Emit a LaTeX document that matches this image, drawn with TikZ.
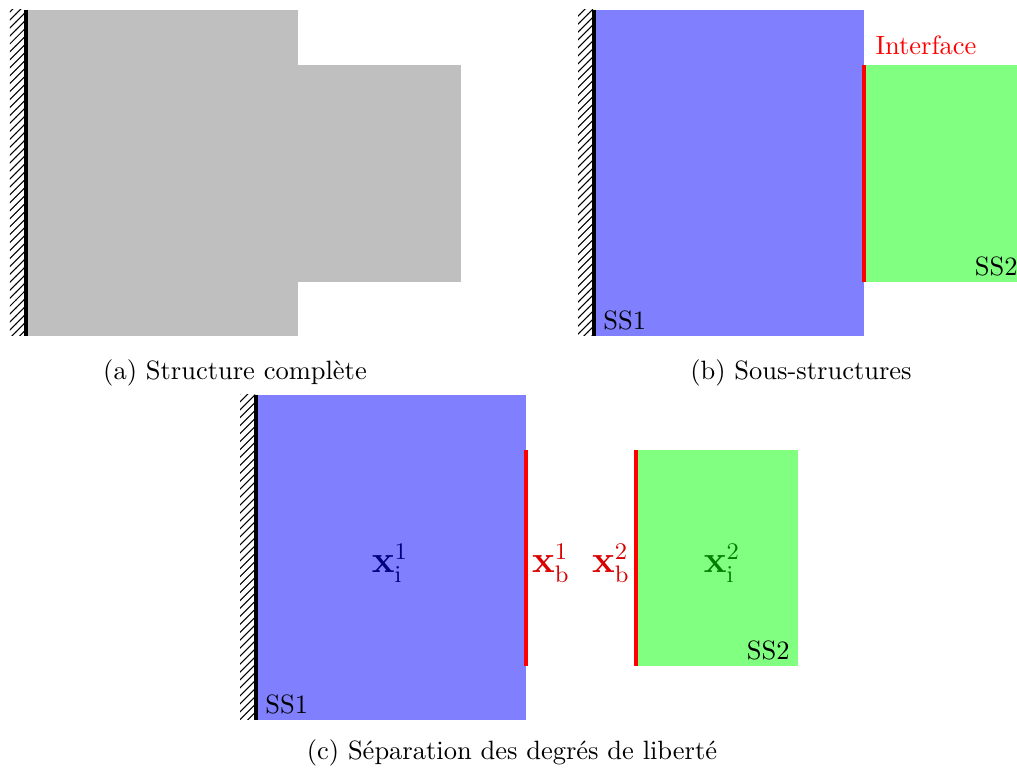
\documentclass[tikz,border=0pt]{standalone}
\usetikzlibrary{patterns}
\begin{document}
\begin{tikzpicture}[x=0.3775pt,y=-0.3775pt,
  wall/.style={pattern=north east lines},
  wallline/.style={line width=1.2pt,black},
  iface/.style={line width=1.5pt,red},
  ssone/.style={fill=blue!50},
  sstwo/.style={fill=green!50},
  full/.style={fill=black!25},
  lbl/.style={font=\fontsize{13.4}{16}\selectfont},
  captxt/.style={font=\normalsize}]
\useasboundingbox (0,0) rectangle (1017,769);
% (a)
\fill[full] (26,10) rectangle (298,336);
\fill[full] (297,65) rectangle (461,282);
\fill[wall] (10,10) rectangle (25,336);
\draw[wallline] (26,10) -- (26,336);
\node[captxt] (capa) at (235,373) {(a) Structure compl\`ete};
% (b)
\fill[ssone] (594,10) rectangle (864,336);
\fill[sstwo] (864,65) rectangle (1017,282);
\fill[wall] (578,10) rectangle (593,336);
\draw[wallline] (594,10) -- (594,336);
\draw[iface] (864,65) -- (864,282);
\node[red] (intf) at (926,45) {Interface};
\node[anchor=south west] (ss1b) at (594,339) {SS1};
\node[anchor=south east] (ss2b) at (1027,285) {SS2};
\node[captxt] (capb) at (801,373) {(b) Sous-structures};
% (c)
\fill[ssone] (256,395) rectangle (526,720);
\fill[sstwo] (636,450) rectangle (798,666);
\fill[wall] (240,395) rectangle (255,720);
\draw[wallline] (256,395) -- (256,720);
\draw[iface] (526,450) -- (526,666);
\draw[iface] (636,450) -- (636,666);
\node[lbl,text=blue!50!black] (xi1) at (390,563) {$\mathbf{x}_{\mathrm{i}}^{1}$};
\node[lbl,text=red!85!black,anchor=west,inner sep=1pt] (xb1) at (529,563) {$\mathbf{x}_{\mathrm{b}}^{1}$};
\node[lbl,text=red!85!black,anchor=east,inner sep=1pt] (xb2) at (633,563) {$\mathbf{x}_{\mathrm{b}}^{2}$};
\node[lbl,text=green!50!black] (xi2) at (722,563) {$\mathbf{x}_{\mathrm{i}}^{2}$};
\node[anchor=south west] (ss1c) at (256,723) {SS1};
\node[anchor=south east] (ss2c) at (799,669) {SS2};
\node[captxt] (capc) at (512,753) {(c) S\'eparation des degr\'es de libert\'e};
\end{tikzpicture}
\end{document}
